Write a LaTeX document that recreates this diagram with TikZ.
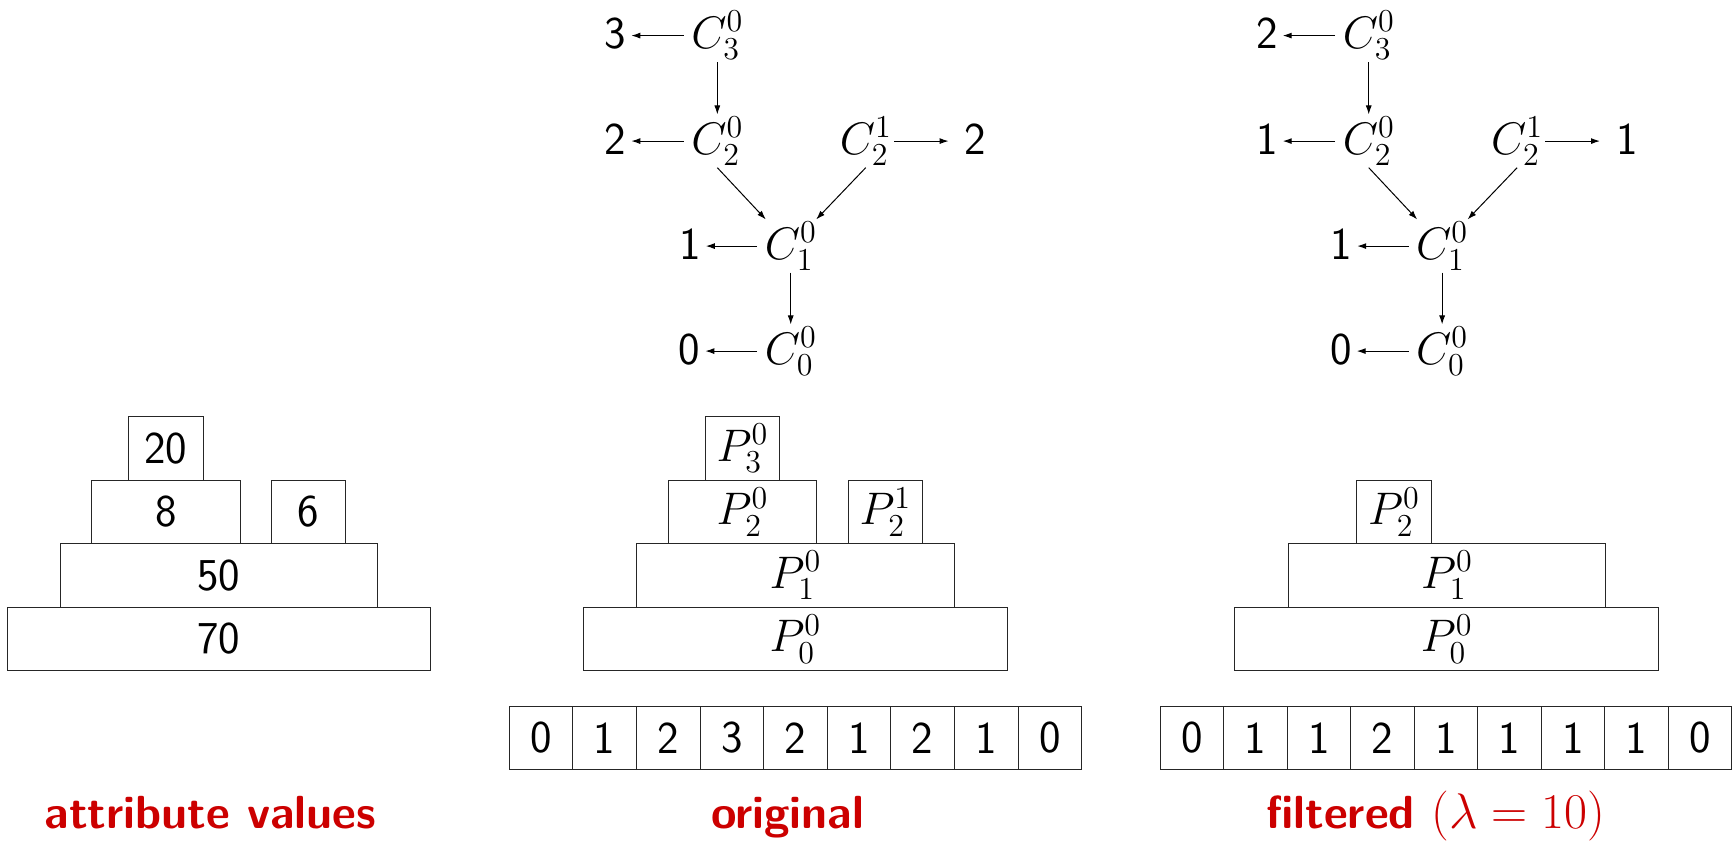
\documentclass[tikz,border=0pt]{standalone}
\usepackage{fix-cm}
\usepackage{fontspec}
\usetikzlibrary{arrows.meta}
\definecolor{alertred}{RGB}{204,0,0}
\begin{document}
\begin{tikzpicture}[x=0.5pt,y=-0.5pt,
  font=\fontsize{22.8}{27.4}\selectfont\sffamily,
  box/.style={draw=black!85, line width=0.5pt, rectangle, inner sep=0pt, minimum height=31.75pt},
  cell/.style={draw=black!85, line width=0.5pt, rectangle, inner sep=0pt, minimum height=31.75pt, minimum width=31.8pt},
  cn/.style={inner sep=1pt, anchor=base west},
  num/.style={inner sep=0.5pt, anchor=base},
  arr/.style={-{Latex[length=4.5pt,width=3pt]}, line width=0.5pt},
  toleft/.style={arr, shorten <=2.6pt, shorten >=1.85pt},
  lbl/.style={anchor=base, text=alertred, font=\fontsize{23.2}{27.8}\selectfont\sffamily\bfseries}]
\useasboundingbox (0,0) rectangle (1734,842);

% ---------- attribute values ----------
\node[box, minimum width=37.15pt]  (v20) at (165.85,448.5) {20};
\node[box, minimum width=74.15pt]  (v8)  at (165.85,512)   {8};
\node[box, minimum width=37pt]     (v6)  at (308.7,512)    {6};
\node[box, minimum width=158.85pt] (v50) at (218.85,575.5) {50};
\node[box, minimum width=211.5pt]  (v70) at (218.8,639)    {70};
\node[lbl] (labv) at (210.5,828) {attribute values};

% ---------- original ----------
\node[cn] (oC3)  at (689,48.5)  {$C_3^0$};
\node[cn] (oC2)  at (689,154)   {$C_2^0$};
\node[cn] (oC2b) at (837.4,154) {$C_2^1$};
\node[cn] (oC1)  at (762.4,259) {$C_1^0$};
\node[cn] (oC0)  at (762.4,364) {$C_0^0$};
\node[num] (on3)  at (615.5,48.5) {3};
\node[num] (on2)  at (615.5,154)  {2};
\node[num] (on2b) at (975.5,154)  {2};
\node[num] (on1)  at (690,259)    {1};
\node[num] (on0)  at (689.5,364)  {0};
\draw[arr] (oC3.south) -- (oC2.north);
\draw[arr] (oC2.south) -- (oC1);
\draw[arr] (oC2b.south) -- (oC1);
\draw[arr] (oC1.south) -- (oC0.north);
\draw[toleft] (oC3.west) -- (oC3.west -| on3.east);
\draw[toleft] (oC2.west) -- (oC2.west -| on2.east);
\draw[toleft] (oC1.west) -- (oC1.west -| on1.east);
\draw[toleft] (oC0.west) -- (oC0.west -| on0.east);
\draw[arr, shorten >=7.4pt] (oC2b.east) -- (oC2b.east -| on2b.west);

\node[box, minimum width=37.2pt]  (oP3)  at (742.5,448.5) {$P_3^0$};
\node[box, minimum width=74.2pt]  (oP2)  at (742.5,512)   {$P_2^0$};
\node[box, minimum width=37pt]    (oP2b) at (885.3,512)   {$P_2^1$};
\node[box, minimum width=158.8pt] (oP1)  at (795.5,575.5) {$P_1^0$};
\node[box, minimum width=212pt]   (oP0)  at (795.3,639)   {$P_0^0$};
\foreach \v [count=\i from 0] in {0,1,2,3,2,1,2,1,0}
  \node[cell] (oa\i) at ({541.1+63.6*\i},737.75) {\v};
\node[lbl] (labo) at (787.5,828) {original};

% ---------- filtered (same layout, shifted right) ----------
\begin{scope}[xshift=325.7pt]
\node[cn] (fC3)  at (689,48.5)  {$C_3^0$};
\node[cn] (fC2)  at (689,154)   {$C_2^0$};
\node[cn] (fC2b) at (837.4,154) {$C_2^1$};
\node[cn] (fC1)  at (762.4,259) {$C_1^0$};
\node[cn] (fC0)  at (762.4,364) {$C_0^0$};
\node[num] (fn3)  at (615.5,48.5) {2};
\node[num] (fn2)  at (615.5,154)  {1};
\node[num] (fn2b) at (975.5,154)  {1};
\node[num] (fn1)  at (690,259)    {1};
\node[num] (fn0)  at (689.5,364)  {0};

\node[box, minimum width=37.2pt]  (fP2) at (742.5,512)   {$P_2^0$};
\node[box, minimum width=158.8pt] (fP1) at (795.5,575.5) {$P_1^0$};
\node[box, minimum width=212pt]   (fP0) at (795.3,639)   {$P_0^0$};
\foreach \v [count=\i from 0] in {0,1,1,2,1,1,1,1,0}
  \node[cell, minimum width=31.75pt] (fa\i) at ({540.75+63.5*\i},737.75) {\v};
\end{scope}
\draw[arr] (fC3.south) -- (fC2.north);
\draw[arr] (fC2.south) -- (fC1);
\draw[arr] (fC2b.south) -- (fC1);
\draw[arr] (fC1.south) -- (fC0.north);
\draw[toleft] (fC3.west) -- (fC3.west -| fn3.east);
\draw[toleft] (fC2.west) -- (fC2.west -| fn2.east);
\draw[toleft] (fC1.west) -- (fC1.west -| fn1.east);
\draw[toleft] (fC0.west) -- (fC0.west -| fn0.east);
\draw[arr, shorten >=7.4pt] (fC2b.east) -- (fC2b.east -| fn2b.west);
\node[lbl] (labf) at (1435.8,828) {filtered \mdseries\fontsize{25}{30}\selectfont$(\lambda=10)$};
\end{tikzpicture}
\end{document}
